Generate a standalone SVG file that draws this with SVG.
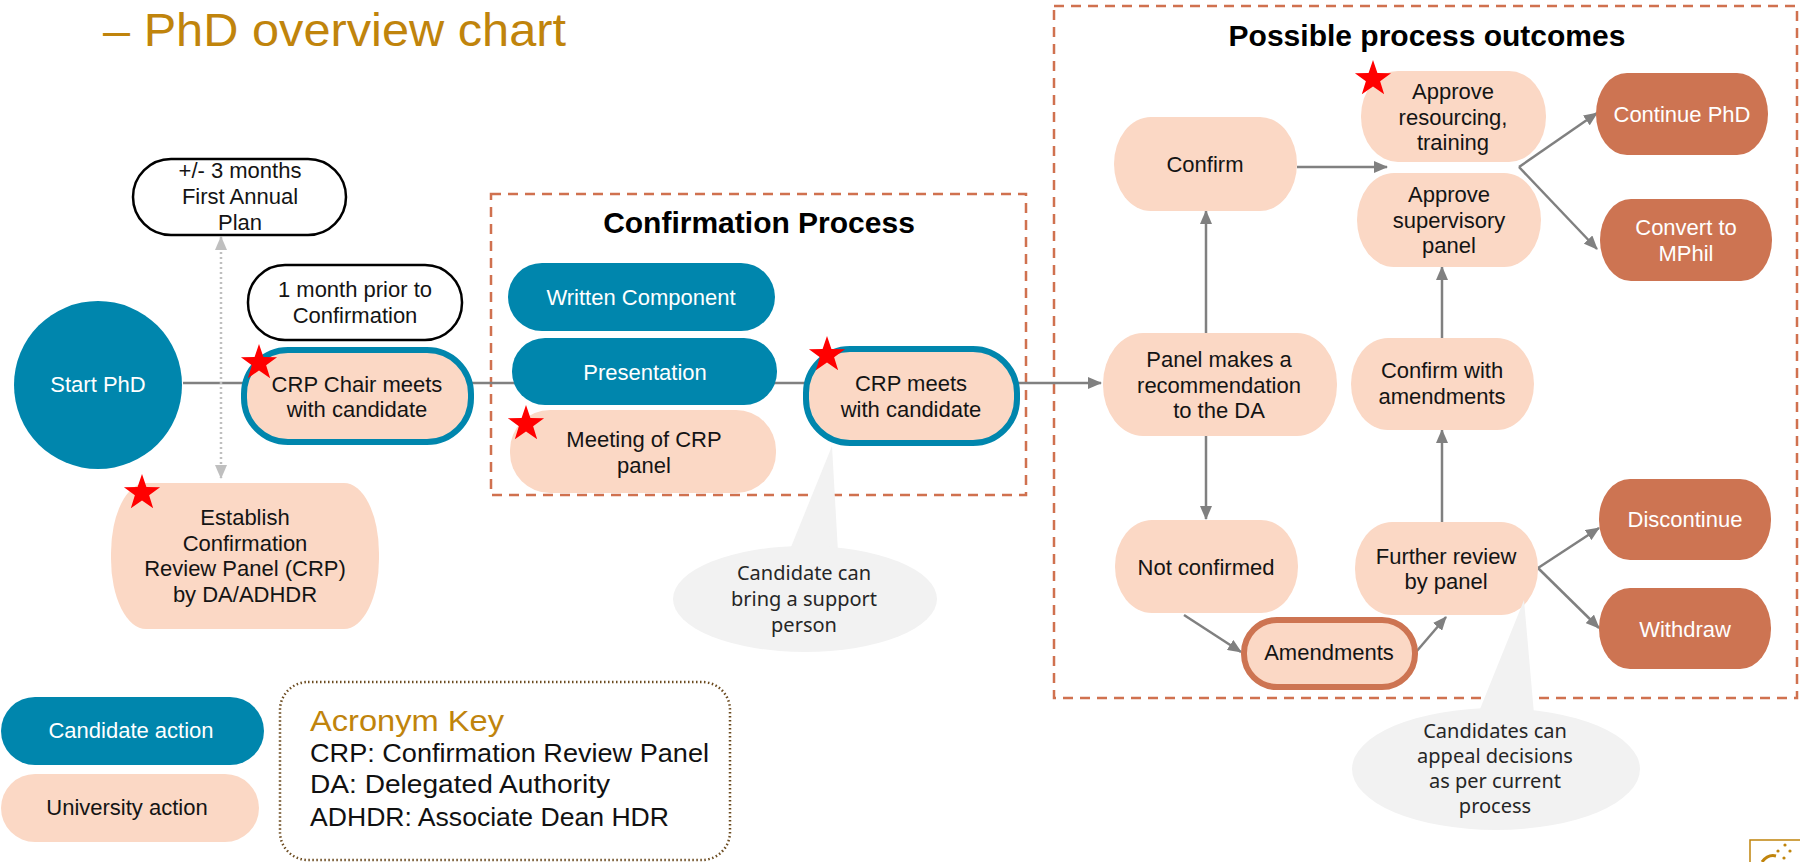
<svg xmlns="http://www.w3.org/2000/svg" width="1800" height="862" viewBox="0 0 1800 862">
<style>
text{font-family:"Liberation Sans",Arial,sans-serif;font-size:22px;text-anchor:middle;fill:#141414}
.w{fill:#fff}
.cand{fill:#0086AD}
.univ{fill:#FBD8C5}
.out{fill:#CD7452}
.tealb{stroke:#0086AD;stroke-width:6}
.terb{stroke:#CD7452;stroke-width:6}
.plain{fill:#fff;stroke:#000;stroke-width:2.5}
.dash{fill:none;stroke:#D0714F;stroke-width:2.5;stroke-dasharray:10 7}
.con{fill:none;stroke:#808080;stroke-width:2.5}
.bub{fill:#F2F2F2}
.bt{font-family:"Noto Sans","Liberation Sans",sans-serif;font-size:20px;fill:#262626}
.h{font-weight:bold;font-size:30px;fill:#000}
.key{text-anchor:start;font-size:26px;fill:#111}
</style>
<defs>
<marker id="ah" viewBox="0 0 14 12" refX="13" refY="6" markerWidth="14" markerHeight="12" markerUnits="userSpaceOnUse" orient="auto-start-reverse">
<path d="M0 0L14 6L0 12z" fill="#808080"/>
</marker>
<marker id="ahl" viewBox="0 0 14 12" refX="13" refY="6" markerWidth="14" markerHeight="12" markerUnits="userSpaceOnUse" orient="auto-start-reverse">
<path d="M0 0L14 6L0 12z" fill="#BFBFBF"/>
</marker>
<path id="star" d="M0 -19L4.41 -6.07L18.07 -5.87L7.13 2.32L11.17 15.37L0 7.5L-11.17 15.37L-7.13 2.32L-18.07 -5.87L-4.41 -6.07z" fill="#FF0000"/>
</defs>

<text x="103" y="46" style="text-anchor:start;font-size:46px;fill:#C0840C" textLength="463" lengthAdjust="spacingAndGlyphs">– PhD overview chart</text>

<g id="frames">
<rect class="dash" x="491" y="194" width="535" height="301"/>
<text class="h" x="759" y="233">Confirmation Process</text>
<rect class="dash" x="1054" y="6" width="743" height="692"/>
<text class="h" x="1427" y="46">Possible process outcomes</text>
</g>

<g id="connectors">
<path class="con" d="M183 383H1101" marker-end="url(#ah)"/>
<path d="M221 237V478" fill="none" stroke="#BFBFBF" stroke-width="2.5" stroke-dasharray="2 3" marker-start="url(#ahl)" marker-end="url(#ahl)"/>
<path class="con" d="M1206 333V211" marker-end="url(#ah)"/>
<path class="con" d="M1206 436V519" marker-end="url(#ah)"/>
<path class="con" d="M1297 167H1387" marker-end="url(#ah)"/>
<path class="con" d="M1519 167L1597 113" marker-end="url(#ah)"/>
<path class="con" d="M1519 167L1597 249" marker-end="url(#ah)"/>
<path class="con" d="M1442 338V267" marker-end="url(#ah)"/>
<path class="con" d="M1442 522V430" marker-end="url(#ah)"/>
<path class="con" d="M1184 615L1241 652" marker-end="url(#ah)"/>
<path class="con" d="M1416 652L1446 617" marker-end="url(#ah)"/>
<path class="con" d="M1538 568L1599 528" marker-end="url(#ah)"/>
<path class="con" d="M1538 568L1599 628" marker-end="url(#ah)"/>
</g>

<g id="n-plan">
<rect class="plain" x="133" y="159" width="213" height="76" rx="38"/>
<text x="240" y="178">+/- 3 months</text>
<text x="240" y="204">First Annual</text>
<text x="240" y="230">Plan</text>
</g>
<g id="n-month">
<rect class="plain" x="248" y="265" width="214" height="75" rx="37"/>
<text x="355" y="297">1 month prior to</text>
<text x="355" y="323">Confirmation</text>
</g>
<g id="n-start">
<circle class="cand" cx="98" cy="385" r="84"/>
<text class="w" x="98" y="392">Start PhD</text>
</g>
<g id="n-chair">
<rect class="univ tealb" x="244" y="350" width="227" height="92" rx="44"/>
<text x="357" y="392">CRP Chair meets</text>
<text x="357" y="417">with candidate</text>
<use href="#star" x="259" y="363"/>
</g>
<g id="n-establish">
<rect class="univ" x="111" y="483" width="268" height="146" rx="35" ry="70"/>
<text x="245" y="525">Establish</text>
<text x="245" y="551">Confirmation</text>
<text x="245" y="576">Review Panel (CRP)</text>
<text x="245" y="602">by DA/ADHDR</text>
<use href="#star" x="142" y="493"/>
</g>
<g id="n-written">
<rect class="cand" x="508" y="263" width="267" height="68" rx="34"/>
<text class="w" x="641" y="305">Written Component</text>
</g>
<g id="n-presentation">
<rect class="cand" x="512" y="338" width="265" height="67" rx="33"/>
<text class="w" x="645" y="380">Presentation</text>
</g>
<g id="n-meeting">
<rect class="univ" x="510" y="410" width="266" height="83" rx="40"/>
<text x="644" y="447">Meeting of CRP</text>
<text x="644" y="473">panel</text>
<use href="#star" x="526" y="424"/>
</g>
<g id="n-crpmeets">
<rect class="univ tealb" x="806" y="349" width="211" height="94" rx="44"/>
<text x="911" y="391">CRP meets</text>
<text x="911" y="417">with candidate</text>
<use href="#star" x="827" y="355"/>
</g>
<g id="n-bubble1">
<path class="bub" d="M832 446L789 552L838 552z"/>
<ellipse class="bub" cx="805" cy="599" rx="132" ry="53"/>
<text class="bt" x="804" y="580">Candidate can</text>
<text class="bt" x="804" y="606">bring a support</text>
<text class="bt" x="804" y="632">person</text>
</g>

<g id="n-panel">
<rect class="univ" x="1103" y="333" width="234" height="103" rx="40" ry="51"/>
<text x="1219" y="367">Panel makes a</text>
<text x="1219" y="393">recommendation</text>
<text x="1219" y="418">to the DA</text>
</g>
<g id="n-confirm">
<rect class="univ" x="1114" y="117" width="183" height="94" rx="37" ry="47"/>
<text x="1205" y="172">Confirm</text>
</g>
<g id="n-resourcing">
<rect class="univ" x="1361" y="71" width="185" height="91" rx="37" ry="45"/>
<text x="1453" y="99">Approve</text>
<text x="1453" y="125">resourcing,</text>
<text x="1453" y="150">training</text>
<use href="#star" x="1373" y="79"/>
</g>
<g id="n-supervisory">
<rect class="univ" x="1357" y="173" width="184" height="94" rx="37" ry="47"/>
<text x="1449" y="202">Approve</text>
<text x="1449" y="228">supervisory</text>
<text x="1449" y="253">panel</text>
</g>
<g id="n-continue">
<rect class="out" x="1596" y="73" width="172" height="82" rx="31" ry="41"/>
<text class="w" x="1682" y="122">Continue PhD</text>
</g>
<g id="n-convert">
<rect class="out" x="1600" y="199" width="172" height="82" rx="31" ry="41"/>
<text class="w" x="1686" y="235">Convert to</text>
<text class="w" x="1686" y="261">MPhil</text>
</g>
<g id="n-withamend">
<rect class="univ" x="1351" y="338" width="183" height="92" rx="37" ry="46"/>
<text x="1442" y="378">Confirm with</text>
<text x="1442" y="404">amendments</text>
</g>
<g id="n-notconfirmed">
<rect class="univ" x="1115" y="520" width="183" height="93" rx="37" ry="46"/>
<text x="1206" y="575">Not confirmed</text>
</g>
<g id="n-further">
<rect class="univ" x="1355" y="522" width="183" height="93" rx="37" ry="46"/>
<text x="1446" y="564">Further review</text>
<text x="1446" y="589">by panel</text>
</g>
<g id="n-amendments">
<rect class="univ terb" x="1244" y="620" width="171" height="67" rx="33"/>
<text x="1329" y="660">Amendments</text>
</g>
<g id="n-discontinue">
<rect class="out" x="1599" y="479" width="172" height="81" rx="31" ry="40"/>
<text class="w" x="1685" y="527">Discontinue</text>
</g>
<g id="n-withdraw">
<rect class="out" x="1599" y="588" width="172" height="81" rx="31" ry="40"/>
<text class="w" x="1685" y="637">Withdraw</text>
</g>
<g id="n-bubble2">
<path class="bub" d="M1524 600L1478 714L1534 714z"/>
<ellipse class="bub" cx="1496" cy="769" rx="144" ry="61"/>
<text class="bt" x="1495" y="738">Candidates can</text>
<text class="bt" x="1495" y="763">appeal decisions</text>
<text class="bt" x="1495" y="788">as per current</text>
<text class="bt" x="1495" y="813">process</text>
</g>

<g id="legend-candidate">
<rect class="cand" x="1" y="697" width="263" height="68" rx="34"/>
<text class="w" x="131" y="738">Candidate action</text>
</g>
<g id="legend-university">
<rect class="univ" x="1" y="774" width="258" height="68" rx="34"/>
<text x="127" y="815">University action</text>
</g>
<g id="acronym-key">
<rect x="280" y="682" width="450" height="178" rx="28" fill="none" stroke="#6B4A1E" stroke-width="2.5" stroke-dasharray="1.5 2.5"/>
<text x="310" y="731" style="text-anchor:start;font-size:30px;fill:#C0840C" textLength="194" lengthAdjust="spacingAndGlyphs">Acronym Key</text>
<text class="key" x="310" y="762" textLength="399" lengthAdjust="spacingAndGlyphs">CRP: Confirmation Review Panel</text>
<text class="key" x="310" y="793" textLength="300" lengthAdjust="spacingAndGlyphs">DA: Delegated Authority</text>
<text class="key" x="310" y="826" textLength="359" lengthAdjust="spacingAndGlyphs">ADHDR: Associate Dean HDR</text>
</g>

<g id="logo">
<rect x="1750" y="840" width="52" height="30" fill="none" stroke="#C0840C" stroke-width="1.5"/>
<circle cx="1785" cy="845" r="1.6" fill="#C0840C"/>
<circle cx="1778" cy="851" r="1.6" fill="#C0840C"/>
<circle cx="1790" cy="851" r="1.6" fill="#C0840C"/>
<circle cx="1784" cy="858" r="1.6" fill="#C0840C"/>
<path d="M1762 862Q1768 854 1776 856" fill="none" stroke="#C0840C" stroke-width="3"/>
</g>
</svg>
